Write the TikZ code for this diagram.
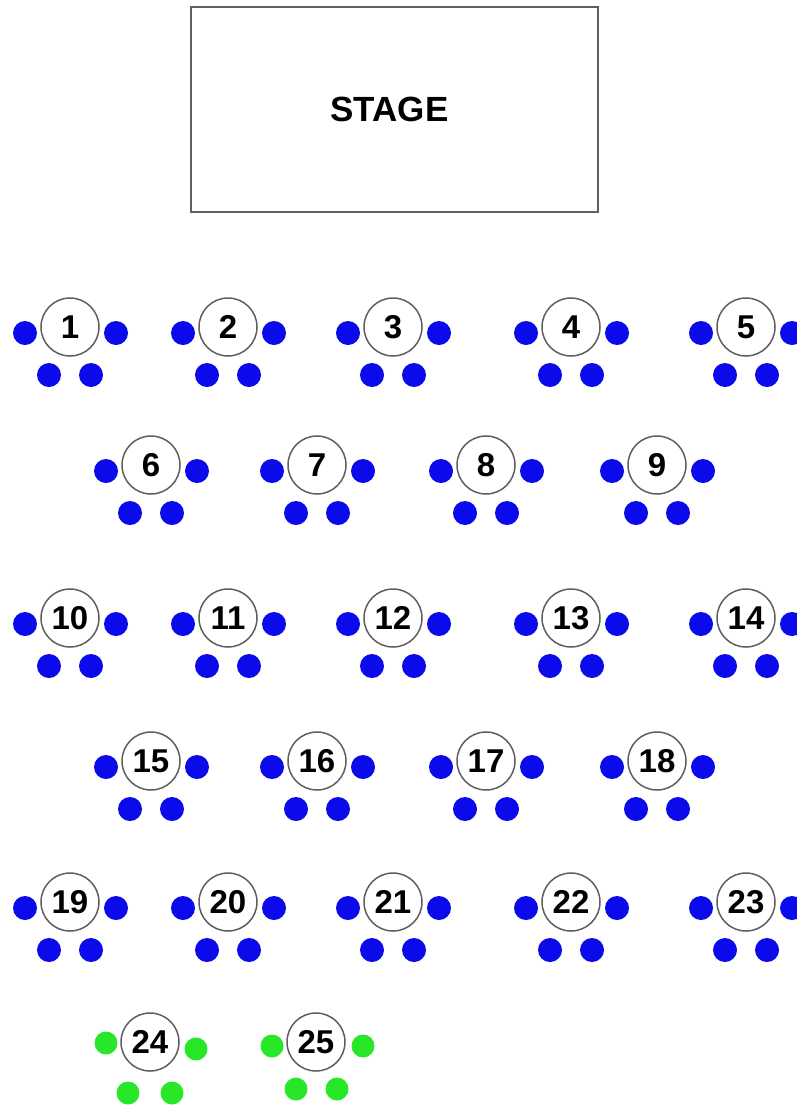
\documentclass[tikz,border=0pt]{standalone}
\usepackage{fontspec}
\setmainfont{Liberation Sans}
\usetikzlibrary{positioning,calc}

\definecolor{seatblue}{RGB}{10,10,235}
\definecolor{seatgreen}{RGB}{40,230,40}
\definecolor{rim}{RGB}{95,95,95}

\begin{document}
\begin{tikzpicture}[x=1pt, y=-1pt,
        stagebox/.style={rectangle, draw=rim, line width=1.6pt, minimum width=407pt, minimum height=205pt, inner sep=0pt},
        stagetext/.style={font=\fontsize{35}{35}\selectfont\bfseries, xshift=-5pt},
        table/.style={circle, draw=rim, line width=1.5pt, fill=white, minimum size=58pt, inner sep=0pt, font=\fontsize{33}{33}\selectfont\bfseries},
        seat/.style={circle, fill=seatblue, minimum size=24pt, inner sep=0pt},
        guest/.style={circle, fill=seatgreen, minimum size=23pt, inner sep=0pt}
    ]

    \useasboundingbox (0,0) rectangle (797,1106);

    \node[stagebox, label={[stagetext]center:STAGE}] (stage) at (394.5,109.5) {};

    % row 1
    \node[table] (t1) at (70,327) {1};
    \node[table] (t2) at (228,327) {2};
    \node[table] (t3) at (393,327) {3};
    \node[table] (t4) at (571,327) {4};
    \node[table] (t5) at (746,327) {5};
    % row 2
    \node[table] (t6) at (151,465) {6};
    \node[table] (t7) at (317,465) {7};
    \node[table] (t8) at (486,465) {8};
    \node[table] (t9) at (657,465) {9};
    % row 3
    \node[table] (t10) at (70,618) {10};
    \node[table] (t11) at (228,618) {11};
    \node[table] (t12) at (393,618) {12};
    \node[table] (t13) at (571,618) {13};
    \node[table] (t14) at (746,618) {14};
    % row 4
    \node[table] (t15) at (151,761) {15};
    \node[table] (t16) at (317,761) {16};
    \node[table] (t17) at (486,761) {17};
    \node[table] (t18) at (657,761) {18};
    % row 5
    \node[table] (t19) at (70,902) {19};
    \node[table] (t20) at (228,902) {20};
    \node[table] (t21) at (393,902) {21};
    \node[table] (t22) at (571,902) {22};
    \node[table] (t23) at (746,902) {23};
    % row 6
    \node[table] (t24) at (150,1042) {24};
    \node[table] (t25) at (316,1042) {25};

    % blue seats
    \foreach \t in {1,...,23} {
        \node[seat] (s\t-l) at ($(t\t.center)+(-45,6)$) {};
        \node[seat] (s\t-r) at ($(t\t.center)+(46,6)$) {};
        \node[seat] (s\t-a) at ($(t\t.center)+(-21,48)$) {};
        \node[seat] (s\t-b) at ($(t\t.center)+(21,48)$) {};
    }

    % green seats
    \node[guest] (s24-l) at ($(t24.center)+(-44,1)$) {};
    \node[guest] (s24-r) at ($(t24.center)+(46,7)$) {};
    \node[guest] (s24-a) at ($(t24.center)+(-22,51)$) {};
    \node[guest] (s24-b) at ($(t24.center)+(22,51)$) {};
    \node[guest] (s25-l) at ($(t25.center)+(-44,4)$) {};
    \node[guest] (s25-r) at ($(t25.center)+(47,4)$) {};
    \node[guest] (s25-a) at ($(t25.center)+(-20,47)$) {};
    \node[guest] (s25-b) at ($(t25.center)+(21,47)$) {};

\end{tikzpicture}
\end{document}
